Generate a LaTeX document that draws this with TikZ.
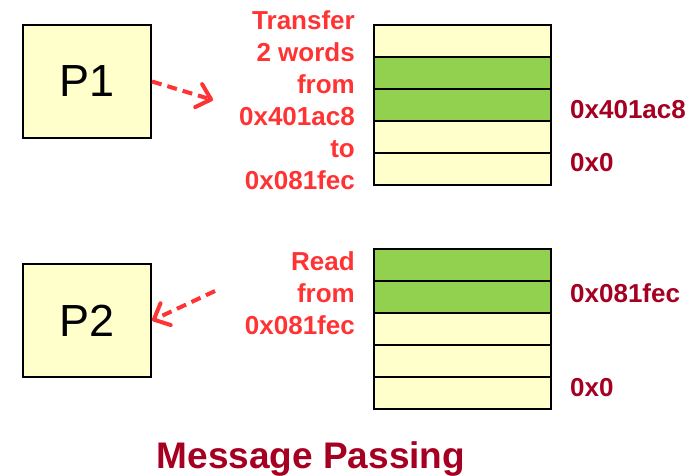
\documentclass[tikz,border=0pt]{standalone}
\usepackage{fontspec}
\setmainfont{Liberation Sans}
\usetikzlibrary{arrows.meta}
\definecolor{cellyellow}{HTML}{FFFFCC}
\definecolor{cellgreen}{HTML}{92D050}
\definecolor{redtxt}{HTML}{FF3333}
\definecolor{darkred}{HTML}{A50021}
\tikzset{
  cell/.style={draw=black, line width=2pt, minimum width=177pt, minimum height=32pt, inner sep=0pt, fill=cellyellow},
  green/.style={fill=cellgreen},
  procbox/.style={draw=black, line width=2pt, fill=cellyellow, minimum width=128pt, minimum height=113pt, inner sep=0pt, font=\fontsize{45}{50}\selectfont},
  redlabel/.style={text=redtxt, font=\bfseries\fontsize{26}{32}\selectfont, align=right, anchor=east, inner sep=0pt},
  addr/.style={text=darkred, font=\bfseries\fontsize{26}{32}\selectfont, anchor=west, inner sep=0pt},
  arr/.style={draw=redtxt, line width=4pt, dash pattern=on 10pt off 6pt, -{Straight Barb[length=13pt,width=24pt,line width=4pt,round]}},
}
\begin{document}
\begin{tikzpicture}[x=1pt,y=-1pt]
\useasboundingbox (0,0) rectangle (690,476);
% processes
\node[procbox] (P1) at (87,81.5) {P1};
\node[procbox] (P2) at (87,320.5) {P2};
% memory 1
\node[cell] (a1) at (462.5,41) {};
\node[cell,green] (a2) at (462.5,73) {};
\node[cell,green] (a3) at (462.5,105) {};
\node[cell] (a4) at (462.5,137) {};
\node[cell] (a5) at (462.5,169) {};
% memory 2
\node[cell,green] (b1) at (462.5,265) {};
\node[cell,green] (b2) at (462.5,297) {};
\node[cell] (b3) at (462.5,329) {};
\node[cell] (b4) at (462.5,361) {};
\node[cell] (b5) at (462.5,393) {};
% red texts
\node[redlabel] (t1) at (355,100) {Transfer\\2 words\\from\\0x401ac8\\to\\0x081fec};
\node[redlabel] (t2) at (355,293) {Read\\from\\0x081fec};
% addresses
\node[addr] (l1) at (570,110) {0x401ac8};
\node[addr] (l2) at (570,163) {0x0};
\node[addr] (l3) at (570,293) {0x081fec};
\node[addr] (l4) at (570,388) {0x0};
% arrows
\coordinate (e1) at (213,100);
\coordinate (s2) at (215,291);
\draw[arr] (P1.east) -- (e1);
\draw[arr] (s2) -- (P2.east);
% title
\node[text=darkred, font=\bfseries\fontsize{37}{40}\selectfont, anchor=base, inner sep=0pt] (title) at (311,468) {Message Passing};
\end{tikzpicture}
\end{document}
